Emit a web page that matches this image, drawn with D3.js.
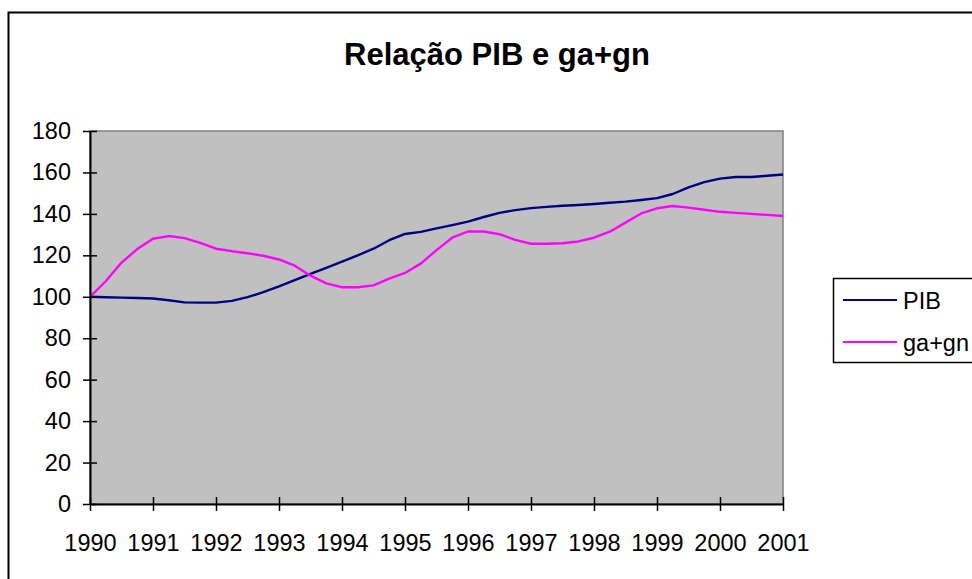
<!DOCTYPE html>
<html>
<head>
<meta charset="utf-8">
<script src="https://cdn.jsdelivr.net/npm/d3@7"></script>
<style>
  body { margin: 0; background: #fff; }
  svg { display: block; font-family: "Liberation Sans", Arial, sans-serif; }
</style>
</head>
<body>
<div id="chart"></div>
<script>
// tick labels on the x axis
const years = [1990, 1991, 1992, 1993, 1994, 1995, 1996, 1997, 1998, 1999, 2000, 2001];
const yTicks = [0, 20, 40, 60, 80, 100, 120, 140, 160, 180];

// quarterly observations, 1990 Q1 .. 2001 Q1
const quarters = d3.range(0, 45).map(i => 1990 + i / 4);

const pib = [100, 99.8, 99.6, 99.4, 99.2, 98.3, 97.3, 97.2, 97.2, 98, 99.8, 102.2,
    105, 108, 111, 114, 117, 120, 123.2, 127.3, 130.3, 131.3, 133, 134.6,
    136.3, 138.5, 140.5, 141.8, 142.8, 143.4, 143.9, 144.3, 144.8, 145.4, 145.9, 146.7,
    147.6, 149.6, 152.8, 155.3, 157, 157.8, 157.8, 158.4, 159];

const gagn = [100, 107.5, 116.5, 123, 128, 129.3, 128.3, 126, 123.2, 122, 121, 119.8,
    118, 115, 110.2, 106.5, 104.6, 104.6, 105.5, 108.8, 111.5, 116, 122.5, 128.5,
    131.5, 131.5, 130.2, 127.5, 125.6, 125.6, 125.8, 126.7, 128.5, 131.4, 135.8, 140.2,
    142.7, 143.8, 143, 142, 141, 140.5, 140, 139.5, 139];

const series = [
    {name: "PIB", values: pib, color: "#000080"},
    {name: "ga+gn", values: gagn, color: "#ff00ff"}
];

const width = 972, height = 579;
const plot = {left: 90, right: 783, top: 131, bottom: 504};
const labelSize = 23.5;

const svg = d3.select("#chart").append("svg")
    .attr("width", width)
    .attr("height", height);

// outer chart frame (runs off the right and bottom edge)
svg.append("rect")
    .attr("x", 8.5).attr("y", 12.5)
    .attr("width", 990).attr("height", 600)
    .attr("fill", "#fff")
    .attr("stroke", "#000")
    .attr("stroke-width", 2);

svg.append("text")
    .attr("x", 497).attr("y", 65)
    .attr("text-anchor", "middle")
    .attr("font-size", 31)
    .attr("font-weight", "bold")
    .text("Relação PIB e ga+gn");

const x = d3.scaleLinear().domain([1990, 2001]).range([plot.left, plot.right]);
const y = d3.scaleLinear().domain([0, 180]).range([plot.bottom, plot.top]);

// gray plot area
svg.append("rect")
    .attr("x", plot.left).attr("y", plot.top)
    .attr("width", plot.right - plot.left)
    .attr("height", plot.bottom - plot.top)
    .attr("fill", "#c0c0c0")
    .attr("stroke", "#808080")
    .attr("stroke-width", 1.5);

// lines
const line = d3.line()
    .x((d, i) => x(quarters[i]))
    .y(d => y(d));

svg.selectAll(".series")
    .data(series)
    .enter()
    .append("path")
    .attr("class", "series")
    .attr("d", d => line(d.values))
    .attr("fill", "none")
    .attr("stroke", d => d.color)
    .attr("stroke-width", 2.4)
    .attr("stroke-linejoin", "round");

// axes
const xAxis = svg.append("g")
    .attr("transform", `translate(0, ${plot.bottom})`)
    .call(d3.axisBottom(x).tickValues(years).tickFormat(d3.format("d"))
        .tickSizeInner(7).tickSizeOuter(0).tickPadding(23));
xAxis.select(".domain").attr("stroke", "#000").attr("stroke-width", 2);
xAxis.selectAll(".tick line").attr("stroke", "#000").attr("stroke-width", 1.5).attr("y1", -7);
xAxis.selectAll(".tick text").attr("font-size", labelSize).attr("fill", "#000")
    .attr("font-family", "'Liberation Sans', Arial, sans-serif");

const yAxis = svg.append("g")
    .attr("transform", `translate(${plot.left}, 0)`)
    .call(d3.axisLeft(y).tickValues(yTicks)
        .tickSizeInner(7).tickSizeOuter(0).tickPadding(12));
yAxis.select(".domain").attr("stroke", "#000").attr("stroke-width", 2);
yAxis.selectAll(".tick line").attr("stroke", "#000").attr("stroke-width", 1.5).attr("x1", 7);
yAxis.selectAll(".tick text").attr("font-size", labelSize).attr("fill", "#000")
    .attr("font-family", "'Liberation Sans', Arial, sans-serif");

// legend
const legend = svg.append("g").attr("transform", "translate(833, 278)");
legend.append("rect")
    .attr("x", 0.5).attr("y", 0.5)
    .attr("width", 200).attr("height", 84)
    .attr("fill", "#fff")
    .attr("stroke", "#000")
    .attr("stroke-width", 1.5);

const items = legend.selectAll(".item")
    .data(series)
    .enter()
    .append("g")
    .attr("class", "item")
    .attr("transform", (d, i) => `translate(0, ${22 + i * 42})`);

items.append("line")
    .attr("x1", 10).attr("x2", 64)
    .attr("stroke", d => d.color)
    .attr("stroke-width", 2);

items.append("text")
    .attr("x", 70).attr("y", 8.5)
    .attr("font-size", labelSize)
    .text(d => d.name);
</script>
</body>
</html>
